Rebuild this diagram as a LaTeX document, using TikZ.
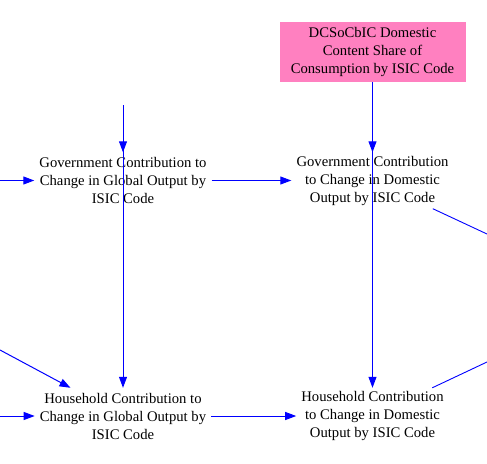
\documentclass[tikz,border=0pt]{standalone}
\usepackage{fontspec}
\setmainfont{Liberation Serif}
\usetikzlibrary{arrows.meta}
\definecolor{linkblue}{RGB}{0,0,255}
\definecolor{boxpink}{RGB}{255,128,192}
\tikzset{
  var/.style={align=center, inner xsep=5pt, inner ysep=0pt, minimum height=56pt,
    font=\fontsize{14.67}{18}\selectfont, text=black},
  srcbox/.style={var, fill=boxpink, minimum width=186pt, minimum height=60pt},
  link/.style={draw=linkblue, line width=1pt, -{Triangle[length=11pt,width=8pt]}},
  plain/.style={draw=linkblue, line width=0.9pt}
}
\begin{document}
\begin{tikzpicture}[x=1pt,y=-1pt]
\useasboundingbox (0,0) rectangle (487,463);
\node[srcbox] (dc) at (372.5,52) {DCSoCbIC Domestic\\Content Share of\\Consumption by ISIC Code};
\node[var] (gg) at (123,180.5) {Government Contribution to\\Change in Global Output by\\ISIC Code};
\node[var] (gd) at (372.5,180.5) {Government Contribution\\to Change in Domestic\\Output by ISIC Code};
\node[var] (hg) at (123,416) {Household Contribution to\\Change in Global Output by\\ISIC Code};
\node[var] (hd) at (372.5,416) {Household Contribution\\to Change in Domestic\\Output by ISIC Code};
\coordinate (top) at (123,105);
\coordinate (inGG) at (0,180.5);
\coordinate (inHG) at (0,416);
\coordinate (inHGd) at (0,350);
\coordinate (outGD) at (487,234);
\coordinate (outHD) at (487,362);
\draw[link] (top) -- (gg.north);
\draw[link] (top) -- (hg.north);
\draw[link] (dc.south) -- (gd.north);
\draw[link] (dc.south) -- (hd.north);
\draw[link] (inGG) -- (gg.west);
\draw[link] (inHG) -- (hg.west);
\draw[link] (inHGd) -- (hg);
\draw[link] (gg.east) -- (gd.west);
\draw[link] (hg.east) -- (hd.west);
\draw[plain] (gd) -- (outGD);
\draw[plain] (hd) -- (outHD);
\end{tikzpicture}
\end{document}
